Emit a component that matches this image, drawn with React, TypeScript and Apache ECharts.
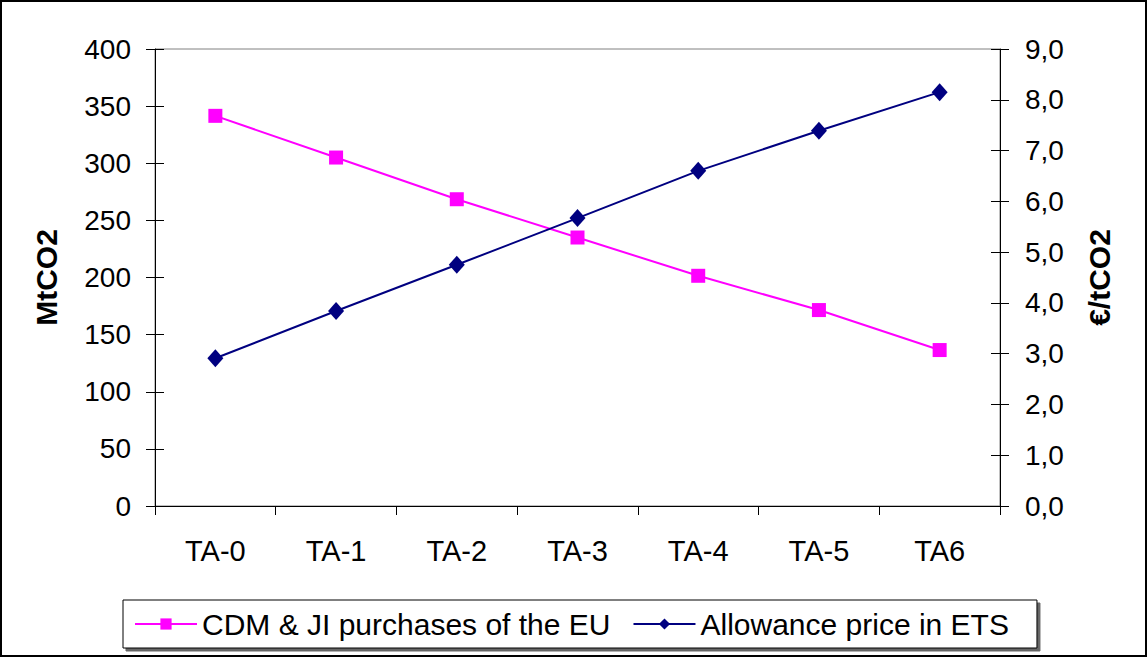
import React, { useEffect, useRef } from "react";
import * as echarts from "echarts";

const categories = ["TA-0", "TA-1", "TA-2", "TA-3", "TA-4", "TA-5", "TA6"];
const cdmJiPurchases = [341.5, 305, 268.5, 235, 201.5, 171.5, 136.5];
const allowancePrice = [2.91, 3.84, 4.75, 5.67, 6.6, 7.39, 8.15];
const leftTicks = { min: 0, max: 400, interval: 50 };
const rightTicks = { min: 0, max: 9, interval: 1 };

const FONT = "Liberation Sans, Arial, sans-serif";

export default function App() {
  const ref = useRef<HTMLDivElement>(null);
  useEffect(() => {
    document.body.style.margin = "0";
    const chart = echarts.init(ref.current!, null, { renderer: "svg" });
    const tickInside = (position: string, min: number, max: number, interval: number) => ({
      type: "value",
      position,
      min,
      max,
      interval,
      axisLine: { show: false },
      axisLabel: { show: false },
      splitLine: { show: false },
      axisTick: { show: true, inside: true, length: 9, lineStyle: { color: "#000", width: 1 } },
    });
    chart.setOption({
      animation: false,
      backgroundColor: "#fff",
      textStyle: { fontFamily: FONT },
      grid: {
        left: 155,
        right: 148,
        top: 49,
        bottom: 152,
        show: true,
        borderColor: "#808080",
        borderWidth: 1,
        backgroundColor: "transparent",
      },
      xAxis: {
        type: "category",
        data: categories,
        boundaryGap: true,
        axisLine: { lineStyle: { color: "#000", width: 1 } },
        axisTick: { show: true, length: 9, lineStyle: { color: "#000" } },
        axisLabel: { color: "#000", fontSize: 29, margin: 30, fontFamily: FONT },
        splitLine: { show: false },
      },
      yAxis: [
        {
          type: "value",
          position: "left",
          ...leftTicks,
          name: "MtCO2",
          nameLocation: "middle",
          nameRotate: 90,
          nameGap: 94,
          nameTextStyle: { fontSize: 30, fontWeight: "bold", color: "#000", fontFamily: FONT },
          axisLine: { show: true, lineStyle: { color: "#000", width: 1 } },
          axisTick: { show: true, length: 9, lineStyle: { color: "#000" } },
          axisLabel: { color: "#000", fontSize: 28, margin: 24, fontFamily: FONT },
          splitLine: { show: false },
        },
        {
          type: "value",
          position: "right",
          ...rightTicks,
          name: "€/tCO2",
          nameLocation: "middle",
          nameRotate: 90,
          nameGap: 84,
          nameTextStyle: { fontSize: 30, fontWeight: "bold", color: "#000", fontFamily: FONT },
          axisLine: { show: true, lineStyle: { color: "#000", width: 1 } },
          axisTick: { show: true, length: 9, lineStyle: { color: "#000" } },
          axisLabel: {
            color: "#000",
            fontSize: 28,
            margin: 25,
            fontFamily: FONT,
            formatter: (v: number) => v.toFixed(1).replace(".", ","),
          },
          splitLine: { show: false },
        },
        tickInside("left", leftTicks.min, leftTicks.max, leftTicks.interval),
        tickInside("right", rightTicks.min, rightTicks.max, rightTicks.interval),
      ],
      legend: {
        left: 123,
        top: 600,
        itemWidth: 62,
        itemHeight: 14,
        itemGap: 22,
        padding: [9, 28, 9, 11],
        borderColor: "#000",
        borderWidth: 1,
        backgroundColor: "#fff",
        shadowColor: "rgba(0,0,0,0.6)",
        shadowOffsetX: 3,
        shadowOffsetY: 3,
        textStyle: { fontSize: 30, color: "#000", fontFamily: FONT },
        data: [
          { name: "CDM & JI purchases of the EU" },
          { name: "Allowance price in ETS" },
        ],
      },
      graphic: [
        {
          type: "rect",
          shape: { x: 1, y: 1, width: 1145, height: 655 },
          style: { fill: "none", stroke: "#000", lineWidth: 2 },
          silent: true,
        },
      ],
      series: [
        {
          name: "CDM & JI purchases of the EU",
          type: "line",
          yAxisIndex: 0,
          data: cdmJiPurchases,
          symbol: "rect",
          symbolSize: 14,
          lineStyle: { color: "#FF00FF", width: 2 },
          itemStyle: { color: "#FF00FF" },
          z: 3,
        },
        {
          name: "Allowance price in ETS",
          type: "line",
          yAxisIndex: 1,
          data: allowancePrice,
          symbol: "diamond",
          symbolSize: [16, 18],
          lineStyle: { color: "#000080", width: 2 },
          itemStyle: { color: "#000080" },
          z: 3,
        },
      ],
    });
    return () => chart.dispose();
  }, []);
  return <div ref={ref} style={{ width: 1148, height: 658 }} />;
}
